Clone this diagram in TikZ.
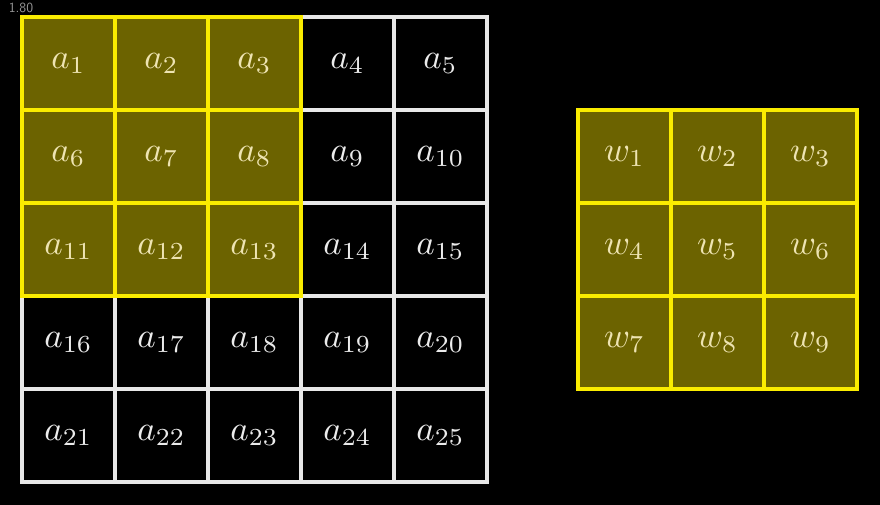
\documentclass[tikz,border=0pt]{standalone}
\usepackage{graphicx}
\usepackage{tikz}
\definecolor{selfill}{RGB}{108,99,0}
\definecolor{seledge}{RGB}{250,236,0}
\definecolor{gridedge}{RGB}{232,232,232}
\definecolor{seltext}{RGB}{238,228,178}
\definecolor{speedcol}{RGB}{150,150,150}
\newcommand{\celltxt}[1]{\scalebox{3.5}{$#1$}}

\begin{document}
\begin{tikzpicture}[x=1pt, y=-1pt,
    cell/.style={draw=gridedge, line width=3.2pt, minimum size=93pt, inner sep=0pt,
                 text=white!92!black, font=\normalsize},
    sel/.style={cell, draw=seledge, fill=selfill, text=seltext}
  ]
  \fill[black] (0,0) rectangle (880,505);
  \useasboundingbox (0,0) rectangle (880,505);
  \node[text=speedcol, font=\sffamily\fontsize{14}{14}\selectfont] (speed) at (21,8) {1.80};

  % input grid, unselected cells
  \foreach \r in {0,...,4}
    \foreach \c in {0,...,4} {
      \pgfmathtruncatemacro{\k}{5*\r+\c+1}
      \pgfmathtruncatemacro{\insel}{(\r<3)&&(\c<3)}
      \ifnum\insel=0
        \node[cell] (a\k) at (68.5+93*\c, 63.5+93*\r) {\celltxt{a_{\k}}};
      \fi
    }
  % selected 3x3 window
  \foreach \r in {0,1,2}
    \foreach \c in {0,1,2} {
      \pgfmathtruncatemacro{\k}{5*\r+\c+1}
      \node[sel] (a\k) at (68.5+93*\c, 63.5+93*\r) {\celltxt{a_{\k}}};
    }

  % kernel
  \foreach \r in {0,1,2}
    \foreach \c in {0,1,2} {
      \pgfmathtruncatemacro{\k}{3*\r+\c+1}
      \node[sel] (w\k) at (624.5+93*\c, 156.5+93*\r) {\celltxt{w_{\k}}};
    }
\end{tikzpicture}
\end{document}
